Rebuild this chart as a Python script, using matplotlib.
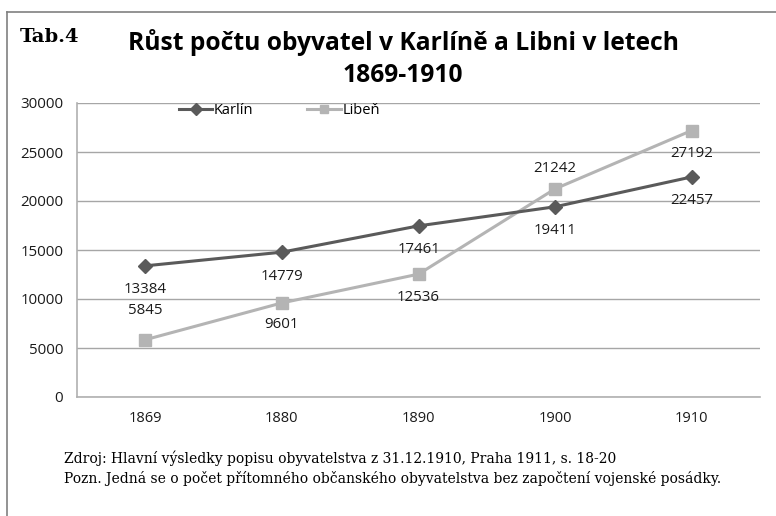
import matplotlib.pyplot as plt
import numpy as np

years = ['1869', '1880', '1890', '1900', '1910']
karlin = [13384, 14779, 17461, 19411, 22457]
liben = [5845, 9601, 12536, 21242, 27192]

# label offsets in pixels (negative = below point)
karlin_off = [-24, -24, -24, -24, -24]
liben_off = [29, -22, -23, 20, -23]

sans = ['Open Sans', 'DejaVu Sans']
serif = ['DejaVu Serif']

fig = plt.figure(figsize=(7.76, 5.16), dpi=100)
ax = fig.add_axes([77/776, 1 - 397/516, 683/776, 294/516])

x = np.arange(len(years))
ax.plot(x, karlin, color='#5a5a5a', lw=2.2, marker='D', ms=7.5, label='Karlín', zorder=3)
ax.plot(x, liben, color='#b4b4b4', lw=2.2, marker='s', ms=8.5, label='Libeň', zorder=2)

for i in range(len(years)):
    ax.annotate(str(karlin[i]), (x[i], karlin[i]), xytext=(0, karlin_off[i]),
                textcoords='offset pixels', ha='center', va='center',
                fontsize=10.8, family=sans, color='#1a1a1a')
    ax.annotate(str(liben[i]), (x[i], liben[i]), xytext=(0, liben_off[i]),
                textcoords='offset pixels', ha='center', va='center',
                fontsize=10.8, family=sans, color='#1a1a1a')

ax.set_xlim(-0.5, 4.5)
ax.set_ylim(0, 30000)
ax.set_yticks(range(0, 30001, 5000))
ax.set_xticks(x)
ax.set_xticklabels(years)
ax.yaxis.grid(True, color='#a6a6a6', lw=1)
ax.set_axisbelow(True)
for s in ['top', 'right']:
    ax.spines[s].set_visible(False)
for s in ['left', 'bottom']:
    ax.spines[s].set_color('#b0b0b0')
    ax.spines[s].set_linewidth(1.2)
ax.tick_params(length=0, labelsize=10.5, colors='#1a1a1a', pad=10)
ax.tick_params(axis='y', labelsize=10.8, pad=10)
for lab in ax.get_xticklabels() + ax.get_yticklabels():
    lab.set_family(sans)

leg = ax.legend(loc='upper left', bbox_to_anchor=(0.13, 1.045), ncol=2, frameon=False,
                handlelength=2.3, handletextpad=0.1, columnspacing=3.7,
                prop={'family': sans, 'size': 10.5}, markerscale=0.75)

fig.text(403/776, 1 - 43/516, 'Růst počtu obyvatel v Karlíně a Libni v letech',
         ha='center', va='center', fontsize=17.7, fontweight='bold', family=sans)
fig.text(403/776, 1 - 76/516, '1869-1910',
         ha='center', va='center', fontsize=17.7, fontweight='bold', family=sans)
fig.text(20/776, 1 - 37/516, 'Tab.4', ha='left', va='center', fontsize=14,
         fontweight='bold', family=serif)

fig.text(64/776, 1 - 458/516,
         'Zdroj: Hlavní výsledky popisu obyvatelstva z 31.12.1910, Praha 1911, s. 18-20',
         ha='left', va='center', fontsize=10, family=serif)
fig.text(64/776, 1 - 478/516,
         'Pozn. Jedná se o počet přítomného občanského obyvatelstva bez započtení vojenské posádky.',
         ha='left', va='center', fontsize=10, family=serif)

# outer frame lines
fig.add_artist(plt.Line2D([7/776, 1], [1 - 12/516, 1 - 12/516], color='#808080', lw=1.2))
fig.add_artist(plt.Line2D([7/776, 7/776], [0, 1 - 12/516], color='#808080', lw=1.2))

fig.savefig('out.png', dpi=100)
